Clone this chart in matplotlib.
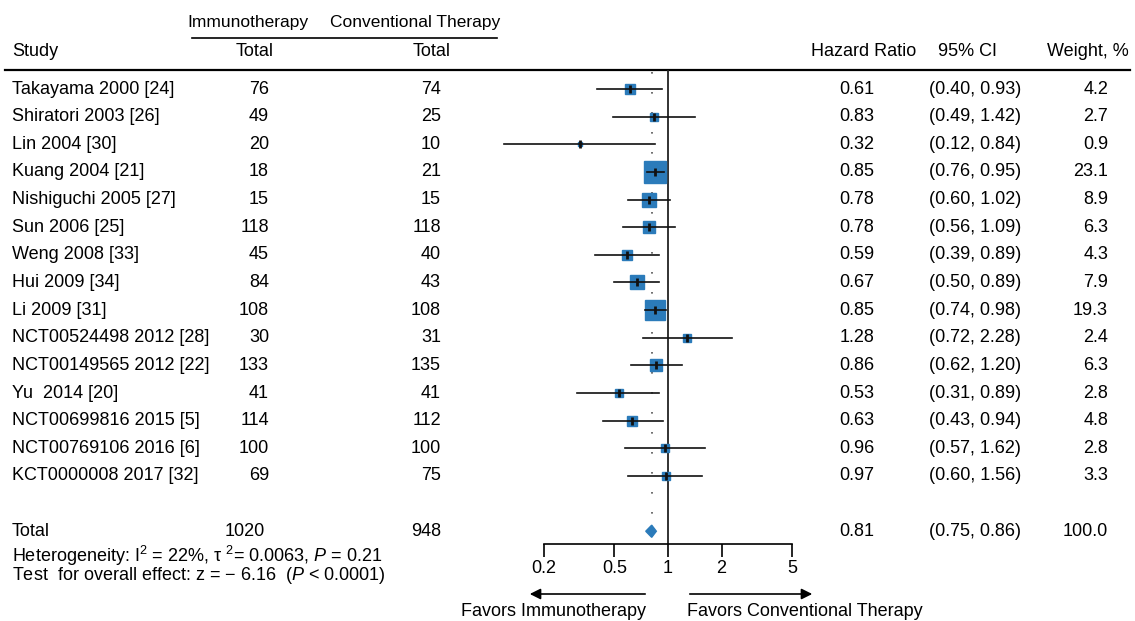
import numpy as np
import matplotlib
matplotlib.use('Agg')
import matplotlib.pyplot as plt

plt.rcParams['font.family'] = 'Liberation Sans'
plt.rcParams['font.size'] = 13
plt.rcParams['mathtext.fontset'] = 'custom'
plt.rcParams['mathtext.rm'] = 'Liberation Sans'
plt.rcParams['mathtext.it'] = 'Liberation Sans:italic'

# data
studies = ['Takayama 2000 [24]', 'Shiratori 2003 [26]', 'Lin 2004 [30]', 'Kuang 2004 [21]',
           'Nishiguchi 2005 [27]', 'Sun 2006 [25]', 'Weng 2008 [33]', 'Hui 2009 [34]',
           'Li 2009 [31]', 'NCT00524498 2012 [28]', 'NCT00149565 2012 [22]', 'Yu  2014 [20]',
           'NCT00699816 2015 [5]', 'NCT00769106 2016 [6]', 'KCT0000008 2017 [32]']
n_immuno = [76, 49, 20, 18, 15, 118, 45, 84, 108, 30, 133, 41, 114, 100, 69]
n_conv = [74, 25, 10, 21, 15, 118, 40, 43, 108, 31, 135, 41, 112, 100, 75]
hr = [0.61, 0.83, 0.32, 0.85, 0.78, 0.78, 0.59, 0.67, 0.85, 1.28, 0.86, 0.53, 0.63, 0.96, 0.97]
ci_lo = [0.40, 0.49, 0.12, 0.76, 0.60, 0.56, 0.39, 0.50, 0.74, 0.72, 0.62, 0.31, 0.43, 0.57, 0.60]
ci_hi = [0.93, 1.42, 0.84, 0.95, 1.02, 1.09, 0.89, 0.89, 0.98, 2.28, 1.20, 0.89, 0.94, 1.62, 1.56]
weight = [4.2, 2.7, 0.9, 23.1, 8.9, 6.3, 4.3, 7.9, 19.3, 2.4, 6.3, 2.8, 4.8, 2.8, 3.3]

total_immuno = 1020
total_conv = 948
pooled_hr = 0.81
pooled_lo = 0.75
pooled_hi = 0.86
total_weight = 100.0

xticks = [0.2, 0.5, 1, 2, 5]

blue = '#2b7bba'

W, H = 1135, 621
fig = plt.figure(figsize=(W / 100, H / 100), dpi=100)

# row geometry (pixels): first row at y=89, 27.64 px per row
y0, dy = 89.0, 27.64
def r(ypix):
    return (ypix - y0) / dy

# background axes for the table text
bg = fig.add_axes([0, 0, 1, 1])
bg.set_xlim(0, W)
bg.set_ylim(r(H), r(0))
bg.axis('off')

# forest axes
px_left, px_right = 480, 840
px_one, px_dec = 668.0, 178.1
ax_top, ax_bot = 70, 544
fax = fig.add_axes([px_left / W, (H - ax_bot) / H, (px_right - px_left) / W, (ax_bot - ax_top) / H])
fax.set_xscale('log')
fax.set_xlim(10 ** ((px_left - px_one) / px_dec), 10 ** ((px_right - px_one) / px_dec))
fax.set_ylim(r(ax_bot), r(ax_top))
fax.patch.set_alpha(0)
for s in ['top', 'left', 'right']:
    fax.spines[s].set_visible(False)
fax.spines['bottom'].set_bounds(xticks[0], xticks[-1])
fax.spines['bottom'].set_linewidth(1.2)
fax.set_yticks([])
fax.set_xticks(xticks)
fax.set_xticklabels([f'{t:g}' for t in xticks])
fax.minorticks_off()
fax.tick_params(axis='x', direction='out', length=9.5, width=1.2, pad=2, labelsize=13)

rows = np.arange(len(studies))
total_row = len(studies) + 1

# line of no effect and pooled dotted line
fax.axvline(1, color='#222222', lw=1.3, zorder=1)
fax.plot([pooled_hr, pooled_hr], [-0.6, total_row - 0.35], color='#555555', lw=1.2,
         linestyle=(0, (1, 11)), zorder=1)

# study squares, CI and point estimates
for i in rows:
    fax.plot([ci_lo[i], ci_hi[i]], [i, i], color='#111111', lw=1.2, zorder=3, clip_on=False)
    fax.plot(hr[i], i, marker='s', ms=3.4 * np.sqrt(weight[i]), color=blue, mec=blue,
             zorder=2, clip_on=False)
    fax.plot(hr[i], i, marker='|', ms=6, mew=2, color='#111111', zorder=4)

# pooled diamond
h = 0.22
fax.fill([pooled_lo, pooled_hr, pooled_hi, pooled_hr],
         [total_row, total_row - h, total_row, total_row + h], color=blue, zorder=3)

# favours arrows
arr_y = r(594)
fax.annotate('', xy=(10 ** ((527 - px_one) / px_dec), arr_y), xytext=(10 ** ((648 - px_one) / px_dec), arr_y),
             arrowprops=dict(arrowstyle='-|>', color='black', lw=1.2, mutation_scale=16),
             annotation_clip=False)
fax.annotate('', xy=(10 ** ((815 - px_one) / px_dec), arr_y), xytext=(10 ** ((687 - px_one) / px_dec), arr_y),
             arrowprops=dict(arrowstyle='-|>', color='black', lw=1.2, mutation_scale=16),
             annotation_clip=False)
bg.text(646, r(612), 'Favors Immunotherapy', ha='right', va='center')
bg.text(687, r(612), 'Favors Conventional Therapy', ha='left', va='center')

# header
bg.text(248, r(23), 'Immunotherapy', ha='center', va='center', fontsize=12.5)
bg.text(415, r(23), 'Conventional Therapy', ha='center', va='center', fontsize=12.5)
bg.plot([192, 497], [r(38), r(38)], color='black', lw=1.2)
bg.text(12, r(52), 'Study', ha='left', va='center')
bg.text(255, r(52), 'Total', ha='center', va='center')
bg.text(432, r(52), 'Total', ha='center', va='center')
bg.text(864, r(52), 'Hazard Ratio', ha='center', va='center')
bg.text(967, r(52), '95% CI', ha='center', va='center')
bg.text(1088, r(52), 'Weight, %', ha='center', va='center')
bg.plot([5, 1130], [r(70), r(70)], color='black', lw=1.6)

# table rows
for i in rows:
    bg.text(12, i, studies[i], ha='left', va='center')
    bg.text(269, i, str(n_immuno[i]), ha='right', va='center')
    bg.text(441, i, str(n_conv[i]), ha='right', va='center')
    bg.text(857, i, f'{hr[i]:.2f}', ha='center', va='center')
    bg.text(975, i, f'({ci_lo[i]:.2f}, {ci_hi[i]:.2f})', ha='center', va='center')
    bg.text(1108, i, f'{weight[i]:.1f}', ha='right', va='center')

bg.text(12, total_row, 'Total', ha='left', va='center')
bg.text(265, total_row, str(total_immuno), ha='right', va='center')
bg.text(441, total_row, str(total_conv), ha='right', va='center')
bg.text(857, total_row, f'{pooled_hr:.2f}', ha='center', va='center')
bg.text(975, total_row, f'({pooled_lo:.2f}, {pooled_hi:.2f})', ha='center', va='center')
bg.text(1108, total_row, f'{total_weight:.1f}', ha='right', va='center')

# footer: heterogeneity and overall effect as one two-line text
footer = (r'Heterogeneity: I$^2$ = 22%, τ $^2$= 0.0063, $P$ = 0.21' + '\n'
          + r'Test  for overall effect: z = − 6.16  ($P$ < 0.0001)')
bg.text(12, r(565), footer, ha='left', va='center', fontsize=13, linespacing=0.85)

fig.savefig('out.png', dpi=100)
